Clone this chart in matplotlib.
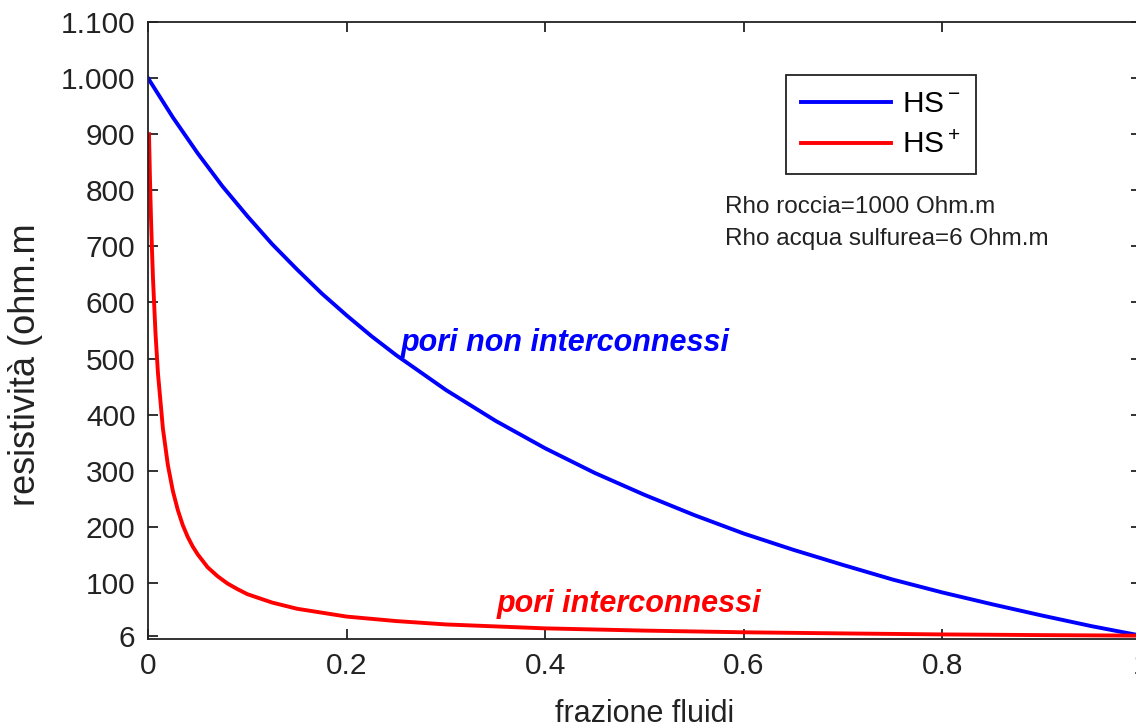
import matplotlib.pyplot as plt

# HS- bound (rock as matrix)
phi_lo = [0, 0.025, 0.05, 0.075, 0.1, 0.125, 0.15, 0.175, 0.2, 0.225, 0.25,
          0.3, 0.35, 0.4, 0.45, 0.5, 0.55, 0.6, 0.65, 0.7, 0.75,
          0.8, 0.85, 0.9, 0.95, 1.0]
rho_lo = [1000, 930, 866, 807, 754, 704, 659, 616, 577, 540, 506,
          444, 389, 340, 296, 257, 221, 188, 159, 132, 106,
          83, 62, 42, 23, 6]

# HS+ bound (fluid as matrix)
phi_hi = [0.001, 0.002, 0.003, 0.004, 0.005, 0.0075, 0.01, 0.015, 0.02, 0.025,
          0.03, 0.035, 0.04, 0.045, 0.05, 0.06, 0.07, 0.08, 0.09, 0.1,
          0.125, 0.15, 0.2, 0.25, 0.3, 0.4, 0.5, 0.6, 0.7, 0.8, 0.9, 1.0]
rho_hi = [900, 818, 750, 693, 643, 546, 474, 375, 310, 264,
          230, 203, 182, 165, 151, 128, 112, 99, 89, 80,
          65, 54, 40, 32, 26, 19, 15, 12, 10, 8.2, 7, 6]

yticks = [6, 100, 200, 300, 400, 500, 600, 700, 800, 900, 1000, 1100]
ylabels = ['6', '100', '200', '300', '400', '500', '600', '700', '800', '900',
           '1.000', '1.100']
xticks = [0, 0.2, 0.4, 0.6, 0.8, 1]
xlabels = ['0', '0.2', '0.4', '0.6', '0.8', '1']

plt.rcParams['font.family'] = ['Liberation Sans', 'DejaVu Sans']
plt.rcParams['mathtext.default'] = 'regular'

fig = plt.figure(figsize=(11.36, 7.26), dpi=100)
# axes run a little past the right edge, like the cropped original
ax = fig.add_axes([0.1303, 0.1198, 0.8741, 0.8499])

ax.plot(phi_lo, rho_lo, color='#0000ff', lw=2.8, label='HS$^-$')
ax.plot(phi_hi, rho_hi, color='#ff0000', lw=2.8, label='HS$^+$')

ax.set_xlim(0, 1)
ax.set_ylim(0, 1100)
ax.set_xticks(xticks)
ax.set_xticklabels(xlabels)
ax.set_yticks(yticks)
ax.set_yticklabels(ylabels)
ax.tick_params(direction='in', length=7, width=1.3, pad=9, labelsize=21.5,
               top=True, right=True, colors='#222222')
for s in ax.spines.values():
    s.set_linewidth(1.3)
    s.set_color('#222222')

ax.set_xlabel('frazione fluidi', fontsize=22, labelpad=14, color='#222222')
ax.set_ylabel('resistività (ohm.m', fontsize=26, color='#222222')
ax.yaxis.set_label_coords(-0.106, 0.444)

leg = ax.legend(loc='upper left', bbox_to_anchor=(0.6425, 0.914),
                borderaxespad=0, fontsize=21.5, handlelength=3.0,
                handletextpad=0.4, labelspacing=0.45, borderpad=0.5,
                fancybox=False, framealpha=1)
leg.get_frame().set_edgecolor('#222222')
leg.get_frame().set_linewidth(1.3)

# rock / fluid resistivities
ax.text(0.581, 759, 'Rho roccia=1000 Ohm.m', fontsize=17.5, color='#222222')
ax.text(0.581, 702, 'Rho acqua sulfurea=6 Ohm.m', fontsize=17.5, color='#222222')

ax.text(0.254, 528, 'pori non interconnessi', fontsize=22, color='#0000ff',
        style='italic', weight='bold', va='center')
ax.text(0.351, 62, 'pori interconnessi', fontsize=22, color='#ff0000',
        style='italic', weight='bold', va='center')

fig.savefig('out.png', dpi=100)
